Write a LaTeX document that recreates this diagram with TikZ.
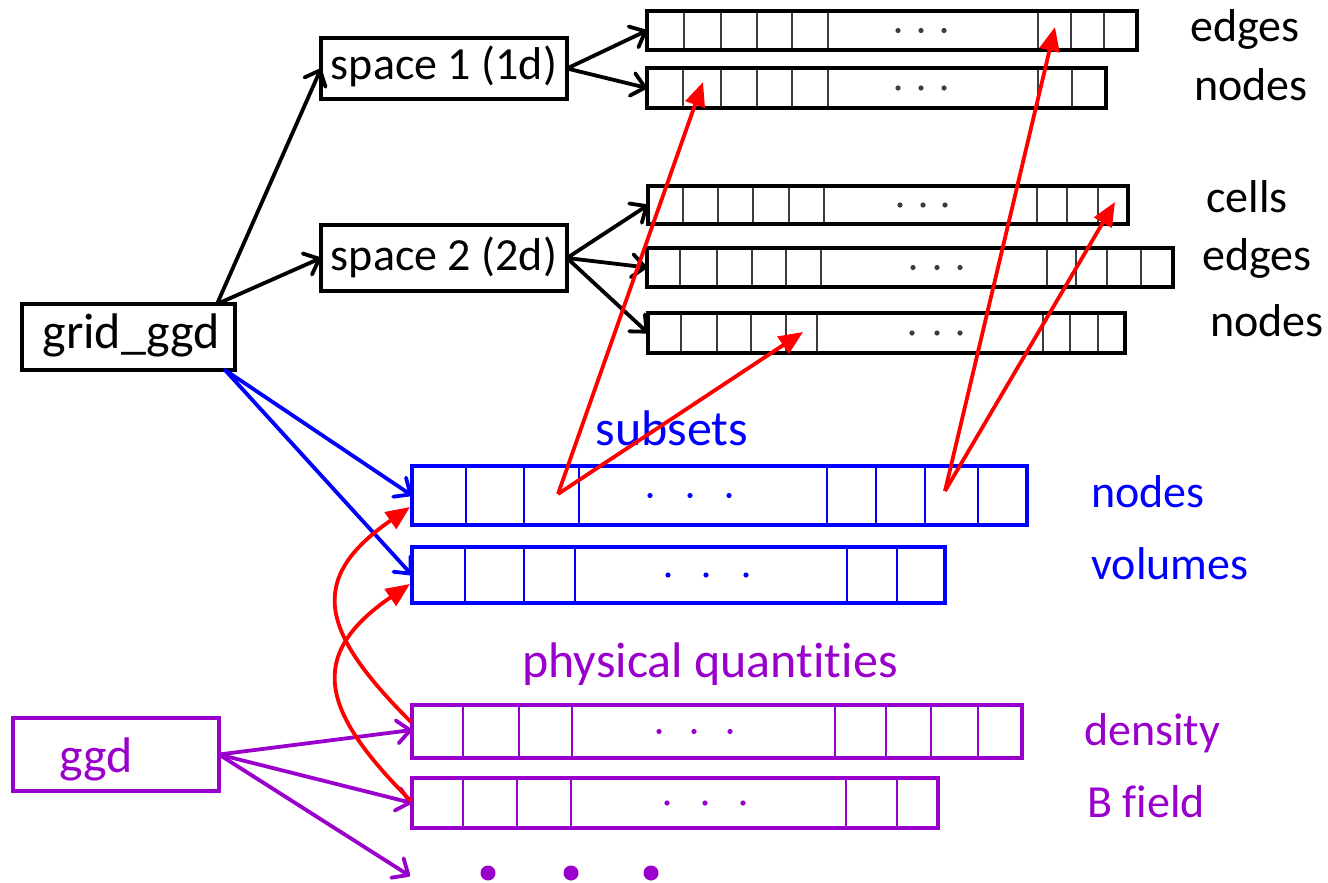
\documentclass[tikz,border=0pt]{standalone}
\usepackage{fontspec}
\setmainfont{Carlito}[Ligatures=CommonOff]
\usetikzlibrary{arrows.meta}

\definecolor{ggdpurple}{RGB}{153,0,204}
\definecolor{subblue}{RGB}{0,0,255}
\definecolor{linkred}{RGB}{255,0,0}
\definecolor{cellgrey}{RGB}{60,60,60}

\tikzset{
  lbl/.style={anchor=base, inner sep=0, outer sep=0, font=\fontsize{46}{50}\selectfont},
  biglbl/.style={lbl, font=\fontsize{50}{54}\selectfont},
  box/.style={draw=#1, line width=3.2pt, inner sep=0, outer sep=0, fill=white},
  divider/.style={draw=#1, line width=1.7pt},
  conn/.style={draw=#1, line width=3.8pt, line cap=round,
    -{Straight Barb[length=13pt,width=23pt,round]}},
  redlink/.style={draw=linkred, line width=3.8pt,
    -{Triangle[length=24pt,width=20pt]}},
}

% one array of cells: name, colour, left, right, top, bottom, dividers, dots
\newcommand{\cellrow}[8]{%
  \node[box=#2, minimum width={(#4)-(#3)}, minimum height={(#6)-(#5)}]
    (#1) at ({((#3)+(#4))/2},{((#5)+(#6))/2}) {};
  \foreach \xx in {#7} {\draw[divider=#2] (\xx,#5) -- (\xx,#6);}
  \foreach \xx in {#8} {\fill[#2] (\xx,{((#5)+(#6))/2}) circle[radius=2.6];}
}

\begin{document}
\begin{tikzpicture}[x=1pt, y=-1pt]
\useasboundingbox (0,0) rectangle (1328,883);

% ---- grid description (black) ----
\node[box=black, minimum width=213, minimum height=66] (grid) at (128.5,337) {};
\node[biglbl] at (131,348) {grid\_ggd};

\node[box=black, minimum width=246, minimum height=61] (sp1) at (444,68.5) {};
\node[lbl] at (444,80) {space 1 (1d)};
\node[box=black, minimum width=246, minimum height=66] (sp2) at (444,258) {};
\node[lbl] at (444,270) {space 2 (2d)};

\cellrow{e1}{cellgrey}{647}{1137}{11}{50}{684,721,757,792,828,1038,1071,1104}{898,921,944}
\cellrow{n1}{cellgrey}{647}{1106}{68}{108}{683,721,757,792,828,1038,1072}{898,921,944}
\cellrow{c2}{cellgrey}{648}{1128}{186}{224}{683,718,753,789,824,1037,1067,1098}{900,923,945}
\cellrow{ed2}{cellgrey}{647}{1173}{248}{287}{680,717,752,786,821,1047,1076,1107,1141}{913,937,960}
\cellrow{nd2}{cellgrey}{648}{1125}{313}{353}{681,717,751,786,817,1043,1070,1098}{912,937,960}
% outer frames in black over the dividers
\foreach \a in {e1,n1,c2,ed2,nd2} {\draw[black, line width=3.2pt] (\a.north west) rectangle (\a.south east);}

\node[lbl] at (1245,42) {edges};
\node[lbl] at (1251,100) {nodes};
\node[lbl] at (1247,212) {cells};
\node[lbl] at (1257,270) {edges};
\node[lbl] at (1267,336) {nodes};

% ---- subsets (blue) ----
\node[biglbl, text=subblue] at (672,445) {subsets};
\cellrow{sn}{subblue}{412}{1027}{466}{525}{466,524,579,827,876,925,978}{650,690,729}
\cellrow{sv}{subblue}{412}{945}{547}{603}{465,524,575,847,897}{668,706,746}
\foreach \a in {sn,sv} {\draw[subblue, line width=3.2pt] (\a.north west) rectangle (\a.south east);}
\node[lbl, text=subblue] at (1148,507) {nodes};
\node[lbl, text=subblue] at (1170,579) {volumes};

% ---- physical quantities (purple) ----
\node[biglbl, text=ggdpurple] at (710,677) {physical quantities};
\cellrow{pd}{ggdpurple}{412}{1022}{705}{758}{463,519,572,835,886,931,978}{659,694,730}
\cellrow{pb}{ggdpurple}{412}{938}{778}{828}{463,517,571,846,897}{667,705,743}
\foreach \a in {pd,pb} {\draw[ggdpurple, line width=3.2pt] (\a.north west) rectangle (\a.south east);}
\node[lbl, text=ggdpurple] at (1152,745) {density};
\node[lbl, text=ggdpurple] at (1146,817) {B field};

\node[box=ggdpurple, minimum width=206, minimum height=73] (ggd) at (116,754.5) {};
\node[biglbl, text=ggdpurple] at (96,772) {ggd};

\foreach \px/\nm in {488/d1,571/d2,651/d3} {\fill[ggdpurple] (\px,873) circle[radius=7.5] coordinate (\nm);}
\coordinate (more) at (410,876);

% ---- black connectors ----
\draw[conn=black] ([xshift=-18pt]grid.north east) -- (sp1.west);
\draw[conn=black] ([xshift=-18pt]grid.north east) -- (sp2.west);
\draw[conn=black] (sp1.east) -- (e1.west);
\draw[conn=black] (sp1.east) -- (n1.west);
\draw[conn=black] (sp2.east) -- (c2.west);
\draw[conn=black] (sp2.east) -- (ed2.west);
\draw[conn=black] (sp2.east) -- (nd2.west);

% ---- blue connectors ----
\draw[conn=subblue] ([xshift=-10pt]grid.south east) -- (sn.west);
\draw[conn=subblue] ([xshift=-10pt]grid.south east) -- (sv.west);

% ---- purple connectors ----
\draw[conn=ggdpurple] (ggd.east) -- ([yshift=1.5pt]pd.west);
\draw[conn=ggdpurple] (ggd.east) -- (pb.west);
\draw[conn=ggdpurple] (ggd.east) -- (more);

% ---- red links ----
\coordinate (sa) at (558,494);
\coordinate (sb) at (945,491);
\coordinate (t1) at (703,82);
\coordinate (t2) at (803,332);
\coordinate (t3) at (1055,27);
\coordinate (t4) at (1115,202);
\draw[redlink] (sa) -- (t1);
\draw[redlink] (sa) -- (t2);
\draw[redlink] (sb) -- (t3);
\draw[redlink] (sb) -- (t4);

\coordinate (pdl) at (411,722);
\coordinate (pbl) at (411,801);
\coordinate (snl) at (410,507);
\coordinate (svl) at (410,584);
\draw[redlink] (pdl) .. controls (322,633) and (305,580) .. (snl);
\draw[redlink] (pbl) .. controls (322,712) and (305,656) .. (svl);
\end{tikzpicture}
\end{document}
